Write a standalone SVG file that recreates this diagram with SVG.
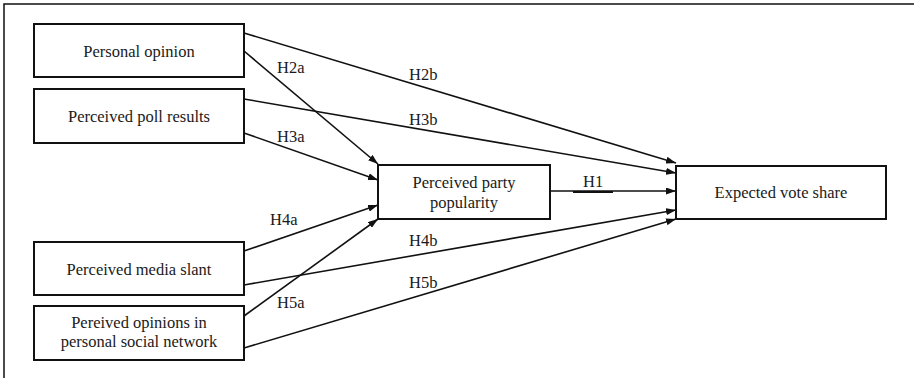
<svg xmlns="http://www.w3.org/2000/svg" width="914" height="378" viewBox="0 0 914 378">
<defs>
<marker id="arr" markerUnits="userSpaceOnUse" markerWidth="10" markerHeight="7" refX="10" refY="3.5" orient="auto">
<path d="M0,0 L10,3.5 L0,7 z" fill="#111"/>
</marker>
<style>
.box{fill:#fff;stroke:#111;stroke-width:2}
.t{font-family:"Liberation Serif","Times New Roman",serif;font-size:16.5px;fill:#1a1a1a;text-anchor:middle}
.l{font-family:"Liberation Serif","Times New Roman",serif;font-size:16.5px;fill:#1a1a1a}
.c{fill:none;stroke:#111;stroke-width:1.6;marker-end:url(#arr)}
</style>
</defs>
<rect x="0" y="0" width="914" height="378" fill="#fff"/>
<rect x="4" y="4" width="930" height="400" fill="none" stroke="#111" stroke-width="1.5"/>
<g id="connectors">
<line class="c" x1="244" y1="33" x2="676" y2="163"/>
<line class="c" x1="244" y1="99" x2="676" y2="173"/>
<line class="c" x1="550" y1="191" x2="676" y2="191"/>
<line class="c" x1="244" y1="285" x2="676" y2="210"/>
<line class="c" x1="244" y1="348" x2="676" y2="219"/>
<line class="c" x1="244" y1="51" x2="378" y2="164"/>
<line class="c" x1="244" y1="133" x2="378" y2="180"/>
<line class="c" x1="244" y1="251" x2="378" y2="205"/>
<line class="c" x1="244" y1="316" x2="378" y2="219"/>
<line x1="573" y1="192" x2="613" y2="192" stroke="#111" stroke-width="2.2"/>
<text class="l" x="277" y="73">H2a</text>
<text class="l" x="409" y="80">H2b</text>
<text class="l" x="277" y="142">H3a</text>
<text class="l" x="409" y="125">H3b</text>
<text class="l" x="583" y="187">H1</text>
<text class="l" x="270" y="225">H4a</text>
<text class="l" x="409" y="246">H4b</text>
<text class="l" x="277" y="308">H5a</text>
<text class="l" x="409" y="288">H5b</text>
</g>
<g id="personal-opinion">
<rect class="box" x="34" y="24" width="210" height="53"/>
<text class="t" x="139" y="57">Personal opinion</text>
</g>
<g id="poll-results">
<rect class="box" x="34" y="89" width="210" height="54"/>
<text class="t" x="139" y="122">Perceived poll results</text>
</g>
<g id="media-slant">
<rect class="box" x="34" y="242" width="210" height="53"/>
<text class="t" x="139" y="275">Perceived media slant</text>
</g>
<g id="social-network">
<rect class="box" x="34" y="306" width="210" height="54"/>
<text class="t" x="139" y="328">Pereived opinions in</text>
<text class="t" x="139" y="347">personal social network</text>
</g>
<g id="party-popularity">
<rect class="box" x="378" y="165" width="172" height="54"/>
<text class="t" x="464" y="188">Perceived party</text>
<text class="t" x="464" y="208">popularity</text>
</g>
<g id="vote-share">
<rect class="box" x="676" y="166" width="210" height="53"/>
<text class="t" x="781" y="198">Expected vote share</text>
</g>
</svg>
